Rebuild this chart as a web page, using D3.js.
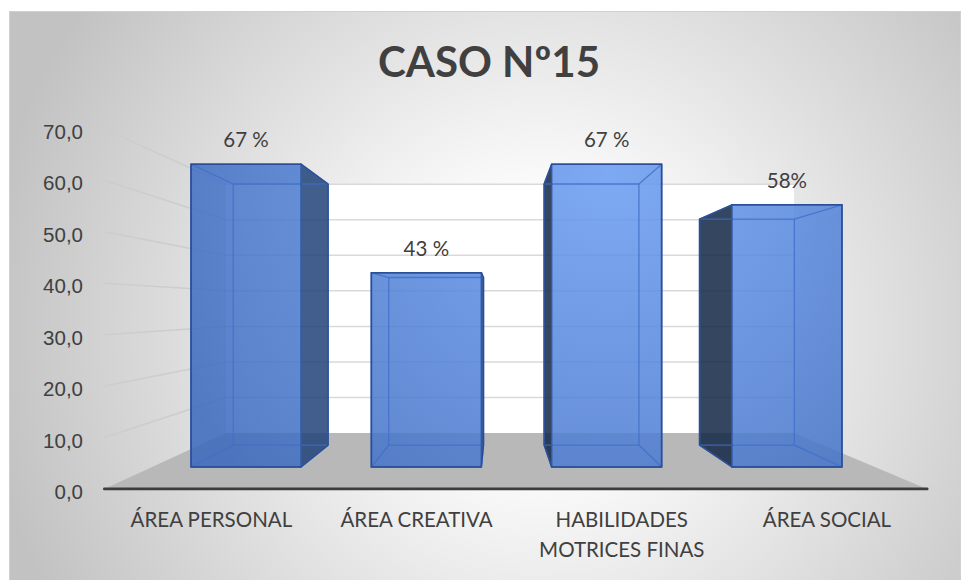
<!DOCTYPE html>
<html>
<head>
<meta charset="utf-8">
<script src="https://cdn.jsdelivr.net/npm/d3@7"></script>
<style>
  html, body { margin: 0; padding: 0; background: #fff; }
  svg { display: block; font-family: Lato, "Noto Sans", sans-serif; }
  .tick text { fill: #404040; font-size: 20.5px; }
</style>
</head>
<body>
<div id="chart"></div>
<script>
// --- data ---------------------------------------------------------------
const title = 'CASO Nº15';
const categories = ['ÁREA PERSONAL', 'ÁREA CREATIVA', 'HABILIDADES MOTRICES FINAS', 'ÁREA SOCIAL'];
const values = [67, 43, 67, 58];
const valueLabels = ['67 %', '43 %', '67 %', '58%'];
const yTicks = [0, 10, 20, 30, 40, 50, 60, 70];

// --- fake 3D perspective ------------------------------------------------
// Screen pos = vanishing point + world * depth scale s.
// s = 1 is the bar front, smaller s goes back towards the wall.
const W = 961, H = 580;
const VPX = 497, VPY = 308, BASE = 159;
const S_FLOOR = 1.138, S_FRONT = 1, S_BACK = 0.862, S_WALL = 0.786;
const X0 = -345, X1 = 378;   // floor / wall extent (world units)

const y = d3.scaleLinear().domain([0, 70]).range([0, 316.4]);
const x = d3.scaleBand().domain(categories).range([-342, 381])
  .paddingInner(0.39).paddingOuter(0.2);

const proj = (X, v, s) => [VPX + X * s, VPY + (BASE - y(v)) * s];
const poly = pts => 'M' + pts.map(p => p.join(',')).join('L') + 'Z';

const svg = d3.select('#chart').append('svg')
  .attr('width', W).attr('height', H);

const defs = svg.append('defs');
const bg = defs.append('radialGradient').attr('id', 'bg')
  .attr('gradientUnits', 'userSpaceOnUse')
  .attr('cx', 540).attr('cy', 330).attr('r', 560);
bg.append('stop').attr('offset', '0%').attr('stop-color', '#ffffff');
bg.append('stop').attr('offset', '25%').attr('stop-color', '#fbfbfb');
bg.append('stop').attr('offset', '100%').attr('stop-color', '#c2c2c2');

// lighting on bar fronts: brighter around the 3rd bar
const bf = defs.append('radialGradient').attr('id', 'barFront')
  .attr('gradientUnits', 'userSpaceOnUse')
  .attr('cx', 610).attr('cy', 170).attr('r', 480);
bf.append('stop').attr('offset', '0%').attr('stop-color', '#6a9cf2');
bf.append('stop').attr('offset', '100%').attr('stop-color', '#3a69bd');

// chart area
svg.append('rect')
  .attr('x', 9.5).attr('y', 11.5).attr('width', 951).attr('height', 580)
  .attr('fill', 'url(#bg)').attr('stroke', '#d0d0d0');

// title
svg.append('text')
  .attr('x', 489).attr('y', 77)
  .attr('text-anchor', 'middle')
  .attr('font-size', 42).attr('font-weight', 700)
  .attr('fill', '#404040')
  .text(title);

// --- walls & floor ------------------------------------------------------
svg.append('path')
  .attr('d', poly([proj(X0, 0, S_WALL), proj(X1, 0, S_WALL), proj(X1, 70, S_WALL), proj(X0, 70, S_WALL)]))
  .attr('fill', '#ffffff');

const grid = svg.append('g').attr('stroke', '#d9d9d9').attr('stroke-width', 1.5).attr('fill', 'none');
grid.selectAll('line.back')
  .data(yTicks.filter(t => t > 0))
  .join('line')
    .attr('class', 'back')
    .attr('x1', d => proj(X0, d, S_WALL)[0]).attr('y1', d => proj(X0, d, S_WALL)[1])
    .attr('x2', d => proj(X1, d, S_WALL)[0]).attr('y2', d => proj(X1, d, S_WALL)[1]);

svg.append('path')
  .attr('d', poly([proj(X0, 0, S_FLOOR), proj(X1, 0, S_FLOOR), proj(X1, 0, S_WALL), proj(X0, 0, S_WALL)]))
  .attr('fill', '#b8b8b8');

grid.selectAll('line.side')
  .data(yTicks.filter(t => t > 0))
  .join('line')
    .attr('class', 'side')
    .attr('stroke', '#cdcdcd')
    .attr('x1', d => proj(X0, d, S_FLOOR)[0]).attr('y1', d => proj(X0, d, S_FLOOR)[1])
    .attr('x2', d => proj(X0, d, S_WALL)[0]).attr('y2', d => proj(X0, d, S_WALL)[1]);

// --- bars ---------------------------------------------------------------
const bars = svg.append('g');
categories.forEach((c, i) => {
  const v = values[i];
  const a = x(c), b = a + x.bandwidth();
  const fTL = proj(a, v, S_FRONT), fTR = proj(b, v, S_FRONT),
        fBR = proj(b, 0, S_FRONT), fBL = proj(a, 0, S_FRONT);
  const bTL = proj(a, v, S_BACK), bTR = proj(b, v, S_BACK),
        bBR = proj(b, 0, S_BACK), bBL = proj(a, 0, S_BACK);
  const g = bars.append('g');

  g.append('path').attr('d', poly([fTL, fTR, fBR, fBL]))
    .attr('fill', 'url(#barFront)').attr('fill-opacity', 0.86);

  let side = null, sideColor = null;
  if (b < 0)      { side = [fTR, bTR, bBR, fBR]; sideColor = '#23437a'; }
  else if (a > 0) { side = [fTL, bTL, bBL, fBL]; sideColor = '#142846'; }
  if (side) {
    g.append('path').attr('d', poly(side))
      .attr('fill', sideColor).attr('fill-opacity', 0.86);
  }

  // hidden edges seen through the glass
  const inner = [[bTL, bTR], [bTR, bBR], [bBR, bBL], [bBL, bTL],
                 [fTL, bTL], [fTR, bTR], [fBR, bBR], [fBL, bBL]];
  g.selectAll('line.edge').data(inner).join('line')
    .attr('class', 'edge')
    .attr('x1', d => d[0][0]).attr('y1', d => d[0][1])
    .attr('x2', d => d[1][0]).attr('y2', d => d[1][1])
    .attr('stroke', '#3f6fc8').attr('stroke-opacity', 0.8).attr('stroke-width', 1.3);

  g.append('path').attr('d', poly([fTL, fTR, fBR, fBL]))
    .attr('fill', 'none').attr('stroke', '#2f5aa8').attr('stroke-width', 1.5);
  const hull = d3.polygonHull([fTL, fTR, fBR, fBL, bTL, bTR, bBR, bBL]);
  g.append('path').attr('d', poly(hull))
    .attr('fill', 'none').attr('stroke', '#2a4f96').attr('stroke-width', 1.5)
    .attr('stroke-linejoin', 'round');

  g.append('text')
    .attr('x', (fTL[0] + fTR[0]) / 2).attr('y', fTL[1] - 17)
    .attr('text-anchor', 'middle').attr('font-size', 20.5).attr('fill', '#404040')
    .text(valueLabels[i]);
});

// front axis line
svg.append('line')
  .attr('x1', proj(X0, 0, S_FLOOR)[0]).attr('y1', proj(X0, 0, S_FLOOR)[1])
  .attr('x2', proj(X1, 0, S_FLOOR)[0]).attr('y2', proj(X1, 0, S_FLOOR)[1])
  .attr('stroke', '#3c3c3c').attr('stroke-width', 2.8).attr('stroke-linecap', 'round');

// --- y axis on the side wall front edge -----------------------------------
const comma = d3.formatLocale({ decimal: ',', thousands: '.', grouping: [3], currency: ['', ''] }).format('.1f');
const yFront = d3.scaleLinear().domain([0, 70])
  .range([proj(X0, 0, S_FLOOR)[1], proj(X0, 70, S_FLOOR)[1]]);
const yAxis = svg.append('g')
  .attr('transform', 'translate(83,0)')
  .call(d3.axisLeft(yFront).tickValues(yTicks).tickFormat(comma).tickSize(0).tickPadding(0));
yAxis.select('.domain').remove();
yAxis.selectAll('text').attr('dy', '0.47em').attr('font-family', null);

// --- category labels -------------------------------------------------------
const catG = svg.append('g');
categories.forEach(c => {
  const cx = proj(x(c) + x.bandwidth() / 2, 0, S_FLOOR)[0];
  const t = catG.append('text')
    .attr('x', cx).attr('y', 527)
    .attr('text-anchor', 'middle').attr('font-size', 20.5).attr('fill', '#404040');
  // greedy word wrap
  const words = c.split(' ');
  let line = [], tsp = t.append('tspan').attr('x', cx).attr('dy', 0);
  words.forEach(w => {
    line.push(w);
    tsp.text(line.join(' '));
    if (tsp.node().getComputedTextLength() > 190 && line.length > 1) {
      line.pop();
      tsp.text(line.join(' '));
      line = [w];
      tsp = t.append('tspan').attr('x', cx).attr('dy', 30).text(w);
    }
  });
});
</script>
</body>
</html>
